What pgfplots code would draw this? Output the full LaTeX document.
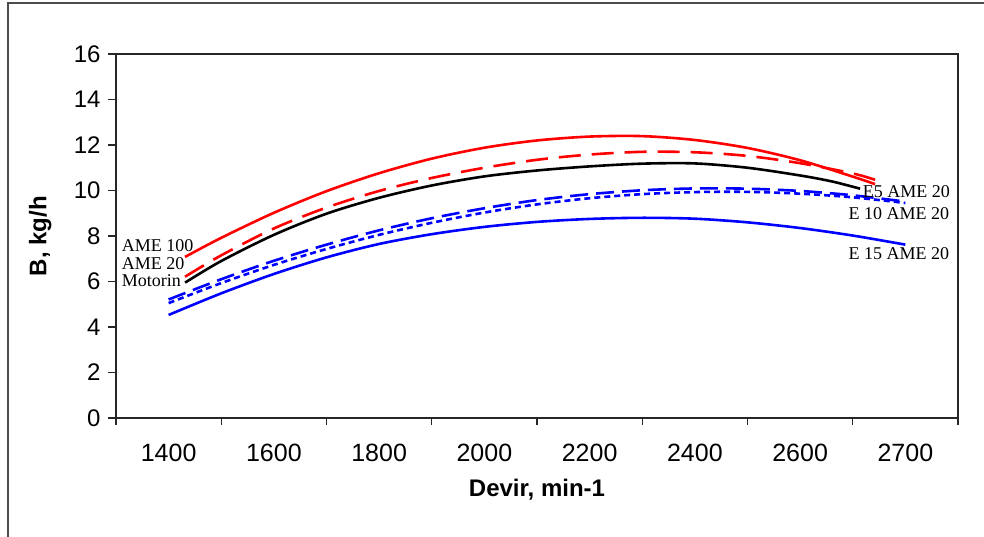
\documentclass[border=0pt]{standalone}
\usepackage{pgfplots}
\pgfplotsset{compat=1.18}
\usepackage{fontspec}
\setmainfont{Liberation Serif}
\newfontfamily\arial{Liberation Sans}

\begin{document}
\begin{tikzpicture}[x=1pt,y=1pt]
\useasboundingbox (0,0) rectangle (984,536);
\draw[line width=1.8pt, black!70] (8,-5) -- (8,533) -- (990,533);
\begin{axis}[
  at={(116pt,118pt)}, anchor=south west,
  scale only axis, width=842pt, height=364pt,
  xmin=-0.5, xmax=7.5, ymin=0, ymax=16,
  axis line style={line width=1.3pt, black!85},
  tick align=outside, tick pos=left,
  major tick length=8pt, minor tick length=7pt,
  every tick/.style={line width=1.1pt, black!85},
  xtick={0,...,7},
  xticklabels={1400,1600,1800,2000,2200,2400,2600,2700},
  major x tick style={draw=none},
  minor xtick={-0.5,0.5,...,7.5},
  ytick={0,2,...,16},
  /pgf/number format/assume math mode=true,
  xticklabel style={font=\arial\fontsize{25}{25}\selectfont, yshift=-15pt},
  yticklabel style={font=\arial\fontsize{24}{24}\selectfont, xshift=-4pt},
  xlabel={Devir, min-1},
  ylabel={B, kg/h},
  xlabel style={font=\arial\bfseries\fontsize{24}{24}\selectfont, at={(axis description cs:0.5,-0.198)}, anchor=center},
  ylabel style={font=\arial\bfseries\fontsize{24}{24}\selectfont, at={(axis description cs:-0.090,0.5)}, anchor=center, rotate=0},
  every axis plot/.append style={line width=2.6pt, smooth, tension=0.5},
  clip=false,
]
% AME 100
\addplot[color=red] coordinates {
(0.156,7.08) (0.5,7.92) (1,9.02) (1.5,9.97) (2,10.76) (2.5,11.40) (3,11.88)
(3.5,12.20) (4,12.37) (4.5,12.39) (5,12.22) (5.5,11.87) (6,11.33) (6.5,10.61) (6.712,10.28)};
% AME 20
\addplot[color=red, dash pattern=on 22pt off 11pt] coordinates {
(0.156,6.21) (0.5,7.15) (1,8.33) (1.5,9.25) (2,9.98) (2.5,10.55) (3,11.00)
(3.5,11.35) (4,11.58) (4.5,11.70) (5,11.68) (5.5,11.52) (6,11.20) (6.5,10.75) (6.712,10.47)};
% Motorin
\addplot[color=black] coordinates {
(0.156,5.95) (0.5,6.90) (1,8.05) (1.5,8.98) (2,9.68) (2.5,10.22) (3,10.62)
(3.5,10.88) (4,11.06) (4.5,11.18) (5,11.19) (5.5,11.00) (6,10.66) (6.3,10.40) (6.57,10.08)};
% E5 AME 20
\addplot[color=blue, dash pattern=on 18pt off 8pt] coordinates {
(0,5.21) (0.5,6.10) (1,6.91) (1.5,7.62) (2,8.25) (2.5,8.78) (3,9.22) (3.5,9.58)
(4,9.84) (4.5,10.01) (5,10.09) (5.5,10.08) (6,9.98) (6.5,9.79) (7,9.51)};
% E10 AME 20
\addplot[color=blue, dash pattern=on 6pt off 4pt] coordinates {
(0,5.05) (0.5,5.93) (1,6.73) (1.5,7.43) (2,8.05) (2.5,8.58) (3,9.03) (3.5,9.39)
(4,9.66) (4.5,9.84) (5,9.93) (5.5,9.94) (6,9.86) (6.5,9.70) (7,9.45)};
% E15 AME 20
\addplot[color=blue] coordinates {
(0,4.53) (0.5,5.48) (1,6.33) (1.5,7.06) (2,7.65) (2.5,8.08) (3,8.40) (3.5,8.62)
(4,8.75) (4.5,8.80) (5,8.76) (5.5,8.60) (6,8.35) (6.5,8.02) (7,7.62)};
\begin{scope}[every node/.style={font=\fontsize{18}{18}\selectfont, inner sep=0pt, anchor=base west}]
\node at (axis cs:-0.447,7.34) {AME 100};
\node at (axis cs:-0.447,6.54) {AME 20};
\node at (axis cs:-0.447,5.78) {Motorin};
\node at (axis cs:6.595,9.69) {E5 AME 20};
\node at (axis cs:6.458,8.71) {E 10 AME 20};
\node at (axis cs:6.458,6.98) {E 15 AME 20};
\end{scope}
\end{axis}
\end{tikzpicture}
\end{document}
